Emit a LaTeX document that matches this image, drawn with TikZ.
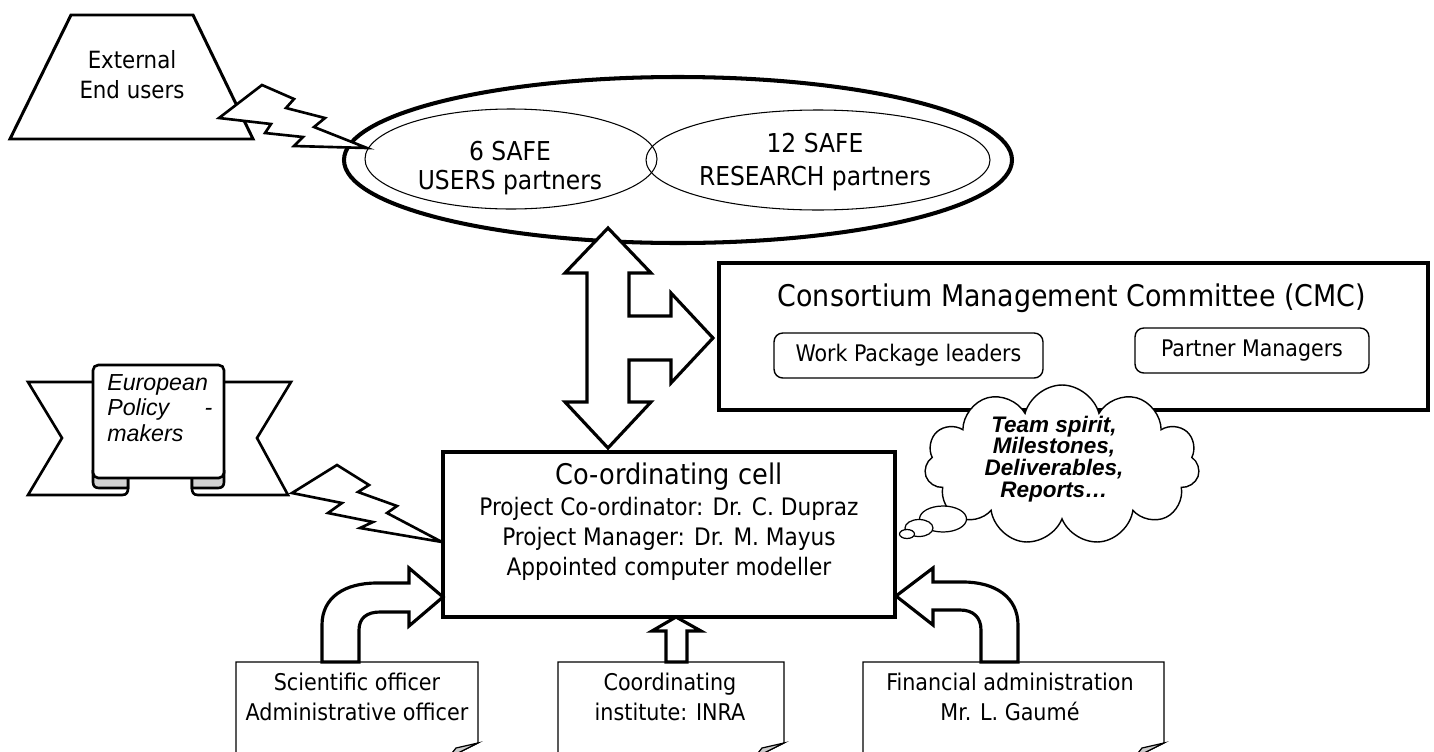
\documentclass[tikz,border=0pt]{standalone}
\usepackage{fontspec}
\setmainfont{DejaVu Sans Condensed}
\newfontfamily\arialfont{Liberation Sans}
\usepackage{tikz}
\usetikzlibrary{shapes.symbols}
\newcommand{\fsz}[2]{\fontsize{#1}{#2}\selectfont}

\begin{document}
\begin{tikzpicture}[x=0.02cm,y=-0.02cm,line join=miter,
  heavy/.style={draw,fill=white,line width=1.8pt},
  light/.style={draw,fill=white,line width=0.7pt},
  bolt/.style={draw,fill=white,line width=1.5pt},
  ribbon/.style={draw,fill=white,line width=1.5pt},
  frame/.style={draw,fill=white,line width=2.2pt},
  tag/.style={draw,fill=white,rounded corners=5pt,line width=0.8pt,minimum height=0.9cm,font=\fsz{13}{15}},
  notetext/.style={align=center,font=\fsz{13.1}{17}}]
\useasboundingbox (0,0) rectangle (1434,751);
\clip (0,0) rectangle (1434,751);

\draw[heavy,line width=1.7pt] (71,15) -- (193,15) -- (253,139) -- (10,139) -- cycle;
\node[align=center,font=\fsz{13.5}{17}] (ext) at (132,75) {External\\End users};

\draw[line width=2.3pt] (678,160) ellipse [x radius=334,y radius=83];
\draw[line width=0.6pt] (511,159) ellipse [x radius=146,y radius=50];
\draw[line width=0.6pt] (818,160) ellipse [x radius=172,y radius=50];
\node[align=center,font=\fsz{14.8}{17}] (usr) at (510,168) {6 SAFE\\USERS partners};
\node[align=center,font=\fsz{14.8}{18.5}] (res) at (815,162) {12 SAFE\\RESEARCH partners};

\draw[bolt] (219,118) -- (262,85) -- (294,99) -- (286,108) -- (325,118) -- (314,127) -- (367,148) -- (294,146) -- (303,137) -- (265,133) -- (271,124) -- cycle;

\draw[heavy] (608,228) -- (651,273) -- (629,273) -- (629,316) -- (671,316) -- (671,293) -- (713,338) -- (671,383) -- (671,360) -- (629,360) -- (629,402) -- (651,402) -- (608,448) -- (565,402) -- (587,402) -- (587,273) -- (565,273) -- cycle;

\node[frame,minimum width=14.18cm,minimum height=2.94cm] (cmc) at (1073.5,336.5) {};
\node[font=\fsz{17}{20}] (cmctitle) at (1072,298) {Consortium Management Committee (CMC)};
\node[tag,minimum width=5.38cm] (wpl) at (908.5,355.5) {Work Package leaders};
\node[tag,minimum width=4.68cm] (pmg) at (1252,350.5) {Partner Managers};

\node[cloud,cloud puffs=11,cloud ignores aspect,draw,fill=white,line width=0.8pt,minimum width=5.5cm,minimum height=3.2cm] (spirit) at (1062,465) {};
\node[align=center,font=\arialfont\bfseries\itshape\fsz{12.8}{12.4}] (spirittext) at (1054,459) {Team spirit,\\Milestones,\\Deliverables,\\Reports…};
\draw[light] (943,519) ellipse [x radius=23.5,y radius=13];
\draw[light] (919,528) ellipse [x radius=14,y radius=8.5];
\draw[light] (907,534) ellipse [x radius=7.5,y radius=4.5];

\draw[ribbon] (105,382) -- (28,382) -- (62,438) -- (28,495) -- (122,495) .. controls (127,495) and (128,492) .. (128,488) -- (128,470);
\draw[ribbon] (212,382) -- (291,382) -- (257,438) -- (288,495) -- (198,495) .. controls (193,495) and (192,492) .. (192,488) -- (192,470);
\draw[ribbon,fill=gray!35] (128,470) -- (128,488) -- (99,488) .. controls (95,488) and (93,486) .. (93,482) -- (93,470);
\draw[ribbon,fill=gray!35] (192,470) -- (192,488) -- (218,488) .. controls (222,488) and (224,486) .. (224,482) -- (224,470);
\draw[ribbon,rounded corners=3pt] (93,478) -- (93,365) -- (224,365) -- (224,478) -- cycle;
\node[anchor=west,inner sep=0pt,text width=2.1cm,align=left,font=\arialfont\itshape\fsz{13.2}{14.7}] (pol) at (107,408) {European\\Policy\hfill-\\makers};

\draw[bolt] (292,493) -- (337,465) -- (369,485) -- (358,492) -- (397,506) -- (387,513) -- (442,542) -- (360,528) -- (373,522) -- (328,513) -- (342,503) -- cycle;

\node[frame,minimum width=9.04cm,minimum height=3.3cm] (cell) at (669,534.5) {};
\node[font=\fsz{16.2}{19}] (celltitle) at (669,477) {Co-ordinating cell};
\node[align=center,font=\fsz{13.7}{17.2}] (cellbody) at (669,539) {Project Co-ordinator: Dr. C. Dupraz\\Project Manager: Dr. M. Mayus\\Appointed computer modeller};

\draw[light] (236,765) -- (236,662) -- (478,662) -- (478,743) -- (448,758);
\draw[light,fill=gray!40] (478,743) -- (456,748) -- (448,758) -- cycle;
\draw[light] (558,765) -- (558,662) -- (784,662) -- (784,743) -- (754,758);
\draw[light,fill=gray!40] (784,743) -- (762,748) -- (754,758) -- cycle;
\draw[light] (863,765) -- (863,662) -- (1164,662) -- (1164,743) -- (1134,758);
\draw[light,fill=gray!40] (1164,743) -- (1142,748) -- (1134,758) -- cycle;
\node[notetext] (sci) at (357,697) {Scientific officer\\Administrative officer};
\node[notetext] (inra) at (670,697) {Coordinating\\institute: INRA};
\node[notetext] (fin) at (1010,697) {Financial administration\\Mr. L. Gaumé};

\draw[heavy] (322,662) -- (322,625) .. controls (322,597) and (345,583) .. (377,583) -- (409,583) -- (409,568) -- (443,597) -- (409,626) -- (409,612) -- (380,612) .. controls (367,612) and (359,618) .. (359,630) -- (359,662) -- cycle;
\draw[heavy] (666,662) -- (666,631) -- (652,631) -- (676,617) -- (701,631) -- (687,631) -- (687,662) -- cycle;
\draw[heavy] (1018,662) -- (1018,625) .. controls (1018,597) and (995,582) .. (963,582) -- (933,582) -- (933,568) -- (896,596) -- (933,625) -- (933,610) -- (960,610) .. controls (973,610) and (981,617) .. (981,630) -- (981,662) -- cycle;
\end{tikzpicture}
\end{document}
